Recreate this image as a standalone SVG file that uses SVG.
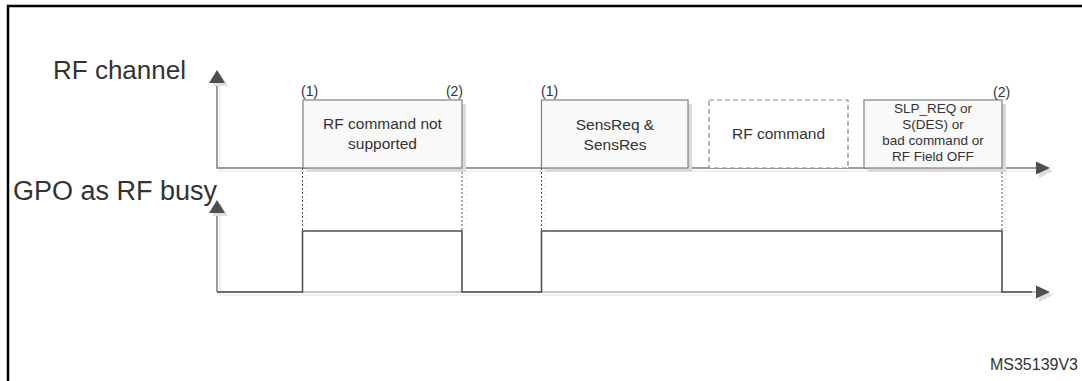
<svg xmlns="http://www.w3.org/2000/svg" width="1082" height="381" viewBox="0 0 1082 381">
<style>
  .frame{fill:none;stroke:#000;stroke-width:2.5}
  .axis{fill:none;stroke:#7c7c7c;stroke-width:1.5}
  .axisl{fill:none;stroke:#c4c4c4;stroke-width:2}
  .shd{fill:none;stroke:#ececec;stroke-width:1.5}
  .head{fill:#4f4f4f}
  .headshd{fill:#dedede}
  .wave{fill:none;stroke:#505050;stroke-width:1.6}
  .dash{fill:none;stroke:#555;stroke-width:1;stroke-dasharray:2 2}
  .dashshd{fill:none;stroke:#e4e4e4;stroke-width:1;stroke-dasharray:2 2}
  .box{fill:#f9f9f9;stroke:#808080;stroke-width:1.2}
  .boxshd{fill:#dadada}
  .dbox{fill:#fff;stroke:#8a8a8a;stroke-width:1.2;stroke-dasharray:5 3}
  .big{font-family:"Liberation Sans",Arial,sans-serif;font-size:26px;fill:#333}
  .lbl{font-family:"Liberation Sans",Arial,sans-serif;font-size:14px;fill:#333}
  .bt{font-family:"Liberation Sans",Arial,sans-serif;font-size:15.5px;fill:#333;text-anchor:middle}
  .bts{font-family:"Liberation Sans",Arial,sans-serif;font-size:13.5px;fill:#333;text-anchor:middle}
  .ref{font-family:"Liberation Sans",Arial,sans-serif;font-size:16px;fill:#333;text-anchor:end}
</style>
<rect class="frame" x="8" y="6" width="1100" height="420"/>

<g id="label-rf-channel"><text class="big" x="53" y="79">RF channel</text></g>
<g id="label-gpo"><text class="big" x="13" y="200" style="font-size:27px">GPO as RF busy</text></g>

<g id="connectors">
  <!-- upper axis -->
  <path class="shd" d="M220,86 V171 H1040"/>
  <path class="axis" d="M217,82 V168 H1038"/>
  <polygon class="headshd" points="220,73 228,86 212,86"/>
  <polygon class="head" points="217,70 225,83 209,83"/>
  <polygon class="headshd" points="1053,171 1039,178 1039,164"/>
  <polygon class="head" points="1050,168 1036,161.5 1036,174.5"/>
  <!-- lower axis -->
  <path class="shd" d="M220,216 V295 H1040"/>
  <path class="axis" d="M217,212 V292"/>
  <path class="axisl" d="M217,292 H1038"/>
  <polygon class="headshd" points="220,203 228,216 212,216"/>
  <polygon class="head" points="217,200 225,213 209,213"/>
  <polygon class="headshd" points="1053,295 1039,302 1039,288"/>
  <polygon class="head" points="1050,292 1036,285.5 1036,298.5"/>
  <!-- dotted markers -->
  <path class="dashshd" d="M306,170 V231 M466,170 V231 M545,170 V231 M1006,170 V231"/>
  <path class="dash" d="M302.5,168 V231 M462,168 V231 M541.5,168 V231 M1002,168 V231"/>
  <!-- waveform -->
  <path class="wave" d="M217,292 H302.5 V231 H462 V292 H541.5 V231 H1002 V292 H1032"/>
</g>

<g id="box-not-supported">
  <rect class="boxshd" x="307" y="104" width="159" height="68"/>
  <rect class="box" x="303" y="100" width="159" height="68"/>
  <text class="bt" x="382.5" y="129">RF command not</text>
  <text class="bt" x="382.5" y="149">supported</text>
  <text class="lbl" x="301" y="96">(1)</text>
  <text class="lbl" x="463" y="96" text-anchor="end">(2)</text>
</g>

<g id="box-sens">
  <rect class="boxshd" x="545.5" y="104" width="146.5" height="68"/>
  <rect class="box" x="541.5" y="100" width="146.5" height="68"/>
  <text class="bt" x="615" y="130">SensReq &amp;</text>
  <text class="bt" x="615" y="150">SensRes</text>
  <text class="lbl" x="541" y="96">(1)</text>
</g>

<g id="box-rf-command">
  <rect class="dbox" x="709" y="100" width="139" height="68"/>
  <text class="bt" x="778.5" y="139">RF command</text>
</g>

<g id="box-slp">
  <rect class="boxshd" x="868" y="104" width="138" height="68"/>
  <rect class="box" x="864" y="100" width="138" height="68"/>
  <text class="bts" x="933" y="113">SLP_REQ or</text>
  <text class="bts" x="933" y="129">S(DES) or</text>
  <text class="bts" x="933" y="145">bad command or</text>
  <text class="bts" x="933" y="161">RF Field OFF</text>
  <text class="lbl" x="993" y="97">(2)</text>
</g>

<g id="ref-id"><text class="ref" x="1078" y="370">MS35139V3</text></g>
</svg>
